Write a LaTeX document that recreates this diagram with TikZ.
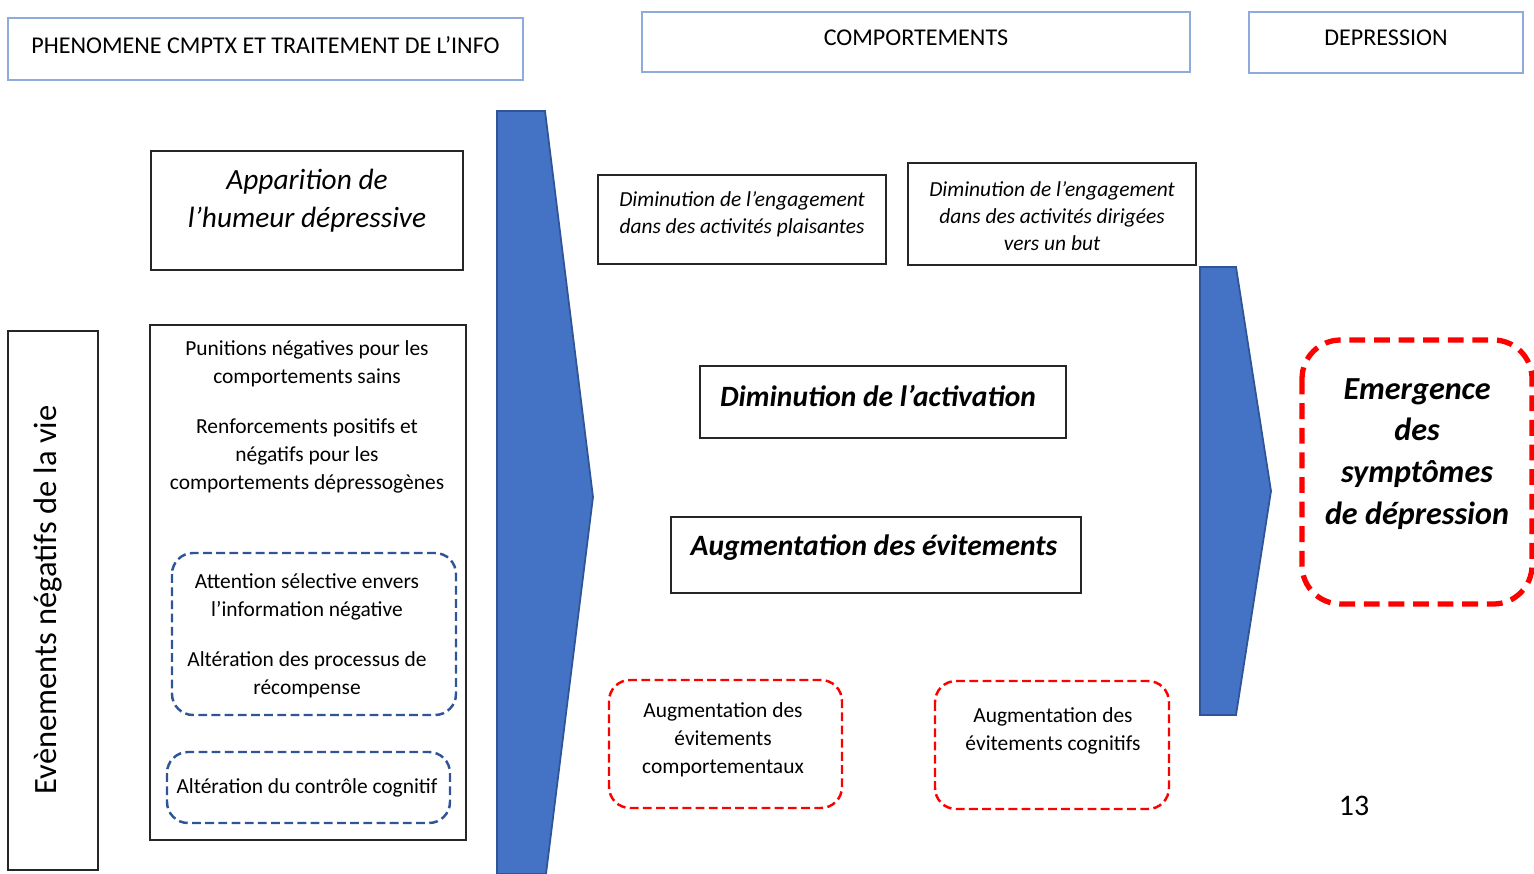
\documentclass[tikz,border=0pt]{standalone}
\usepackage{fontspec}
\setmainfont{Carlito}
\usetikzlibrary{calc}
\definecolor{arrowfill}{HTML}{4472C4}
\definecolor{arrowline}{HTML}{2F5597}
\definecolor{hdrline}{HTML}{8FAADC}
\definecolor{dashblue}{HTML}{2F5597}
\definecolor{boxline}{HTML}{262626}
\tikzset{
  plainbox/.style={draw=boxline, line width=0.9pt},
  hdrbox/.style={draw=hdrline, line width=1.1pt},
  bluedash/.style={draw=dashblue, line width=1.4pt, dash pattern=on 5pt off 2.5pt, rounded corners=12pt},
  reddash/.style={draw=red, line width=1.4pt, dash pattern=on 5pt off 2.5pt, rounded corners=12pt},
  bigreddash/.style={draw=red, line width=3pt, dash pattern=on 9pt off 5pt, rounded corners=22pt},
  bigarrow/.style={fill=arrowfill, draw=arrowline, line width=1pt},
  txt/.style={align=center, inner sep=0pt, font=\fontsize{12.2}{15.9}\selectfont},
  ittxt/.style={align=center, inner sep=0pt, font=\fontsize{12.2}{15.5}\selectfont\itshape},
  hdrtxt/.style={align=center, inner sep=0pt, font=\fontsize{13.7}{16}\selectfont},
  bigit/.style={align=center, inner sep=0pt, font=\fontsize{16.7}{21.7}\selectfont\itshape},
  bigbi/.style={align=center, inner sep=0pt, font=\fontsize{16.8}{21}\selectfont\bfseries\itshape},
}
\begin{document}
\begin{tikzpicture}[x=0.02cm, y=-0.02cm]
\useasboundingbox (0,0) rectangle (1534,874);
% big arrows
\draw[bigarrow] (497,111) -- (545,111) -- (593,497) -- (546,874) -- (497,874) -- cycle;
\draw[bigarrow] (1200,267) -- (1236,267) -- (1271,491) -- (1236,715) -- (1200,715) -- cycle;
% headers
\draw[hdrbox] (8,18) rectangle (523,80);
\node[hdrtxt] (h1) at (265.5,45) {PHENOMENE CMPTX ET TRAITEMENT DE L’INFO};
\draw[hdrbox] (642,12) rectangle (1190,72);
\node[hdrtxt] (h2) at (916,38) {COMPORTEMENTS};
\draw[hdrbox] (1249,12) rectangle (1523,73);
\node[hdrtxt] (h3) at (1386,38) {DEPRESSION};
% left column
\draw[plainbox] (151,151) rectangle (463,270);
\node[bigit] (app) at (307,201) {Apparition de\\l’humeur dépressive};
\draw[plainbox] (8,331) rectangle (98,870);
\node[rotate=90, inner sep=0pt, font=\fontsize{18.5}{21}\selectfont] (vie) at (48,600) {Evènements négatifs de la vie};
\draw[plainbox] (150,325) rectangle (466,840);
\node[txt] (pun) at (307,364) {Punitions négatives pour les\\comportements sains};
\node[txt] (ren) at (307,456) {Renforcements positifs et\\négatifs pour les\\comportements dépressogènes};
\draw[bluedash] (172,553) rectangle (456,715);
\node[txt] (att) at (307,597) {Attention sélective envers\\l’information négative};
\node[txt] (alt) at (307,674.5) {Altération des processus de\\récompense};
\draw[bluedash] (167,752) rectangle (450,823);
\node[txt] (ctl) at (307,788) {Altération du contrôle cognitif};
% middle column
\draw[plainbox] (598,175) rectangle (886,264);
\node[ittxt] (pla) at (742,214.5) {Diminution de l’engagement\\dans des activités plaisantes};
\draw[plainbox] (908,163) rectangle (1196,265);
\node[ittxt] (but) at (1052,216) {Diminution de l’engagement\\dans des activités dirigées\\vers un but};
\draw[plainbox] (700,366) rectangle (1066,438);
\node[bigbi] (act) at (878,396) {Diminution de l’activation};
\draw[plainbox] (671,517) rectangle (1081,593);
\node[bigbi] (evi) at (874,548) {Augmentation des évitements};
\draw[reddash] (609,680) rectangle (842,808);
\node[txt] (comp) at (723,740) {Augmentation des\\évitements\\comportementaux};
\draw[reddash] (935,681) rectangle (1169,809);
\node[txt] (cog) at (1053,730.5) {Augmentation des\\évitements cognitifs};
% right
\draw[bigreddash] (1302,340) rectangle (1532,604);
\node[align=center, inner sep=0pt, font=\fontsize{18.3}{23.8}\selectfont\bfseries\itshape] (emg) at (1417,454) {Emergence\\des\\symptômes\\de dépression};
\node[inner sep=0pt, font=\fontsize{17}{20}\selectfont] (num) at (1354,806) {13};
\end{tikzpicture}
\end{document}
